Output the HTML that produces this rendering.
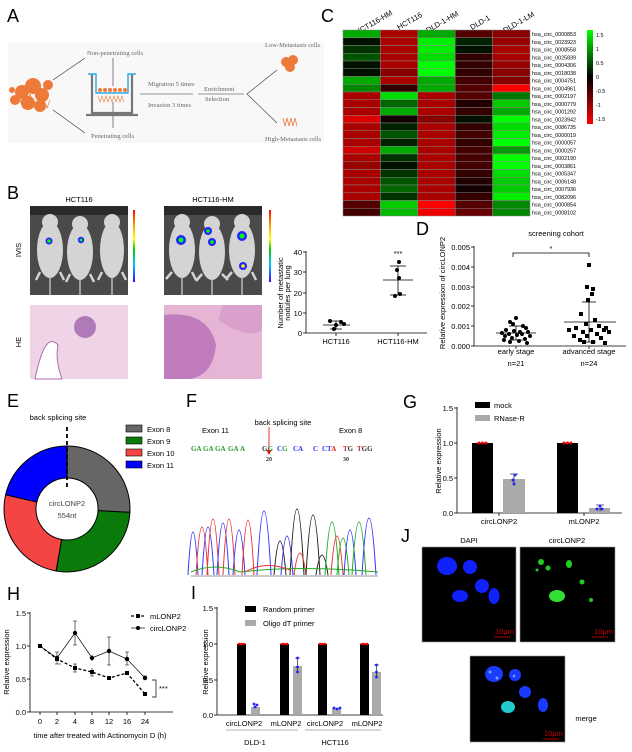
<!DOCTYPE html>
<html><head><meta charset="utf-8"><style>
html,body{margin:0;padding:0;background:#fff;}
svg{display:block;font-family:"Liberation Sans",sans-serif;}
.L{font-size:18px;}
.t{font-size:7.5px;}
.s{font-size:5.4px;}
.sr{font-family:"Liberation Serif",serif;font-size:6.5px;fill:#666;}
</style></head><body>
<svg width="632" height="752" viewBox="0 0 632 752" xmlns="http://www.w3.org/2000/svg">
<!-- A -->
<text x="7" y="22" class="L">A</text>
<rect x="8" y="42" width="316" height="101" fill="#f8f8f8"/>
<g fill="#ee7a3a">
<circle cx="22" cy="92" r="7"/><circle cx="33" cy="86" r="8"/><circle cx="42" cy="95" r="7"/><circle cx="28" cy="103" r="7"/><circle cx="40" cy="106" r="6"/><circle cx="15" cy="100" r="5"/><circle cx="48" cy="85" r="5"/><circle cx="12" cy="90" r="3"/>
</g>
<g stroke="#ee7a3a" stroke-width="0.7" fill="none"><path d="M20 100 l3 8 l3 -8 l3 8 l3 -8 l3 8 l3 -8 l3 8 l3 -8 l3 8 l3 -8"/><path d="M18 94 l3 8 l3 -8 l3 8 l3 -8 l3 8"/></g>
<g stroke="#333" stroke-width="0.6" fill="#333">
<line x1="53" y1="80" x2="85" y2="58"/><line x1="53" y1="110" x2="85" y2="133"/>
<line x1="140" y1="94" x2="193" y2="94"/><line x1="198" y1="94" x2="244" y2="94"/>
<line x1="247" y1="94" x2="277" y2="70"/><line x1="247" y1="94" x2="277" y2="123"/>
<line x1="113" y1="58" x2="113" y2="86"/><line x1="113" y1="128" x2="113" y2="102"/>
</g>
<g fill="none" stroke="#777" stroke-width="2.2"><path d="M92 74 V113 H132 V74"/><line x1="86" y1="115" x2="138" y2="115"/></g>
<g stroke="#2aa8e0" stroke-width="1.4" fill="none"><path d="M88 74 H96 V93 H128 V74 H136"/></g>
<g fill="#ee7a3a"><circle cx="100" cy="90" r="2"/><circle cx="105" cy="90" r="2"/><circle cx="110" cy="90" r="2"/><circle cx="115" cy="90" r="2"/><circle cx="120" cy="90" r="2"/><circle cx="125" cy="90" r="2"/></g>
<path d="M98 96 l2 6 l2 -6 l2 6 l2 -6 l2 6 l2 -6 l2 6 l2 -6 l2 6 l2 -6 l2 6 l2 -6 l2 6" stroke="#ee7a3a" stroke-width="0.6" fill="none"/>
<g class="sr"><text x="87" y="55">Non-penetrating cells</text><text x="91" y="138">Penetrating cells</text>
<text x="148" y="86">Migration 5 times</text><text x="148" y="107">Invasion 3 times</text>
<text x="204" y="91">Enrichment</text><text x="205" y="101">Selection</text>
<text x="265" y="47">Low-Metastasis cells</text><text x="265" y="141">High-Metastasis cells</text></g>
<g fill="#ee7a3a"><circle cx="286" cy="62" r="5"/><circle cx="293" cy="60" r="5"/><circle cx="290" cy="67" r="5"/></g>
<path d="M283 118 l2 8 l2 -8 l2 8 l2 -8 l2 8 l2 -8 l2 8" stroke="#ee7a3a" stroke-width="0.8" fill="none"/>

<!-- C -->
<text x="321" y="22" class="L">C</text>
<g class="t" font-size="6.5">
<text transform="translate(357,35) rotate(-30)">HCT116-HM</text>
<text transform="translate(399,30) rotate(-30)">HCT116</text>
<text transform="translate(428,33) rotate(-30)">DLD-1-HM</text>
<text transform="translate(472,30) rotate(-30)">DLD-1</text>
<text transform="translate(505,33) rotate(-30)">DLD-1-LM</text>
</g>
<g stroke="#888" stroke-width="0.5">
<g transform="translate(0,30)"><rect x="343" width="37.4" height="7.75" fill="#00aa00"/><rect x="380.4" width="37.4" height="7.75" fill="#aa0000"/><rect x="417.8" width="37.4" height="7.75" fill="#00aa00"/><rect x="455.2" width="37.4" height="7.75" fill="#550000"/><rect x="492.6" width="37.4" height="7.75" fill="#880000"/></g>
<g transform="translate(0,37.75)"><rect x="343" width="37.4" height="7.75" fill="#001100"/><rect x="380.4" width="37.4" height="7.75" fill="#aa0000"/><rect x="417.8" width="37.4" height="7.75" fill="#00ee00"/><rect x="455.2" width="37.4" height="7.75" fill="#002200"/><rect x="492.6" width="37.4" height="7.75" fill="#990000"/></g>
<g transform="translate(0,45.5)"><rect x="343" width="37.4" height="7.75" fill="#003300"/><rect x="380.4" width="37.4" height="7.75" fill="#aa0000"/><rect x="417.8" width="37.4" height="7.75" fill="#00ee00"/><rect x="455.2" width="37.4" height="7.75" fill="#001100"/><rect x="492.6" width="37.4" height="7.75" fill="#aa0000"/></g>
<g transform="translate(0,53.25)"><rect x="343" width="37.4" height="7.75" fill="#005500"/><rect x="380.4" width="37.4" height="7.75" fill="#aa0000"/><rect x="417.8" width="37.4" height="7.75" fill="#00dd00"/><rect x="455.2" width="37.4" height="7.75" fill="#330000"/><rect x="492.6" width="37.4" height="7.75" fill="#aa0000"/></g>
<g transform="translate(0,61)"><rect x="343" width="37.4" height="7.75" fill="#001100"/><rect x="380.4" width="37.4" height="7.75" fill="#aa0000"/><rect x="417.8" width="37.4" height="7.75" fill="#00ff00"/><rect x="455.2" width="37.4" height="7.75" fill="#330000"/><rect x="492.6" width="37.4" height="7.75" fill="#990000"/></g>
<g transform="translate(0,68.75)"><rect x="343" width="37.4" height="7.75" fill="#001100"/><rect x="380.4" width="37.4" height="7.75" fill="#880000"/><rect x="417.8" width="37.4" height="7.75" fill="#00ff00"/><rect x="455.2" width="37.4" height="7.75" fill="#330000"/><rect x="492.6" width="37.4" height="7.75" fill="#880000"/></g>
<g transform="translate(0,76.5)"><rect x="343" width="37.4" height="7.75" fill="#00aa00"/><rect x="380.4" width="37.4" height="7.75" fill="#aa0000"/><rect x="417.8" width="37.4" height="7.75" fill="#00aa00"/><rect x="455.2" width="37.4" height="7.75" fill="#440000"/><rect x="492.6" width="37.4" height="7.75" fill="#880000"/></g>
<g transform="translate(0,84.25)"><rect x="343" width="37.4" height="7.75" fill="#008800"/><rect x="380.4" width="37.4" height="7.75" fill="#330000"/><rect x="417.8" width="37.4" height="7.75" fill="#00aa00"/><rect x="455.2" width="37.4" height="7.75" fill="#550000"/><rect x="492.6" width="37.4" height="7.75" fill="#ff0000"/></g>
<g transform="translate(0,92)"><rect x="343" width="37.4" height="7.75" fill="#aa0000"/><rect x="380.4" width="37.4" height="7.75" fill="#00dd00"/><rect x="417.8" width="37.4" height="7.75" fill="#aa0000"/><rect x="455.2" width="37.4" height="7.75" fill="#550000"/><rect x="492.6" width="37.4" height="7.75" fill="#007700"/></g>
<g transform="translate(0,99.75)"><rect x="343" width="37.4" height="7.75" fill="#aa0000"/><rect x="380.4" width="37.4" height="7.75" fill="#006600"/><rect x="417.8" width="37.4" height="7.75" fill="#aa0000"/><rect x="455.2" width="37.4" height="7.75" fill="#220000"/><rect x="492.6" width="37.4" height="7.75" fill="#00cc00"/></g>
<g transform="translate(0,107.5)"><rect x="343" width="37.4" height="7.75" fill="#aa0000"/><rect x="380.4" width="37.4" height="7.75" fill="#00aa00"/><rect x="417.8" width="37.4" height="7.75" fill="#aa0000"/><rect x="455.2" width="37.4" height="7.75" fill="#330000"/><rect x="492.6" width="37.4" height="7.75" fill="#00aa00"/></g>
<g transform="translate(0,115.25)"><rect x="343" width="37.4" height="7.75" fill="#dd0000"/><rect x="380.4" width="37.4" height="7.75" fill="#110000"/><rect x="417.8" width="37.4" height="7.75" fill="#880000"/><rect x="455.2" width="37.4" height="7.75" fill="#001100"/><rect x="492.6" width="37.4" height="7.75" fill="#00ff00"/></g>
<g transform="translate(0,123)"><rect x="343" width="37.4" height="7.75" fill="#aa0000"/><rect x="380.4" width="37.4" height="7.75" fill="#002200"/><rect x="417.8" width="37.4" height="7.75" fill="#aa0000"/><rect x="455.2" width="37.4" height="7.75" fill="#330000"/><rect x="492.6" width="37.4" height="7.75" fill="#00dd00"/></g>
<g transform="translate(0,130.75)"><rect x="343" width="37.4" height="7.75" fill="#aa0000"/><rect x="380.4" width="37.4" height="7.75" fill="#005500"/><rect x="417.8" width="37.4" height="7.75" fill="#aa0000"/><rect x="455.2" width="37.4" height="7.75" fill="#440000"/><rect x="492.6" width="37.4" height="7.75" fill="#00ee00"/></g>
<g transform="translate(0,138.5)"><rect x="343" width="37.4" height="7.75" fill="#aa0000"/><rect x="380.4" width="37.4" height="7.75" fill="#002200"/><rect x="417.8" width="37.4" height="7.75" fill="#aa0000"/><rect x="455.2" width="37.4" height="7.75" fill="#330000"/><rect x="492.6" width="37.4" height="7.75" fill="#00ff00"/></g>
<g transform="translate(0,146.25)"><rect x="343" width="37.4" height="7.75" fill="#cc0000"/><rect x="380.4" width="37.4" height="7.75" fill="#00aa00"/><rect x="417.8" width="37.4" height="7.75" fill="#aa0000"/><rect x="455.2" width="37.4" height="7.75" fill="#440000"/><rect x="492.6" width="37.4" height="7.75" fill="#009900"/></g>
<g transform="translate(0,154)"><rect x="343" width="37.4" height="7.75" fill="#aa0000"/><rect x="380.4" width="37.4" height="7.75" fill="#003300"/><rect x="417.8" width="37.4" height="7.75" fill="#aa0000"/><rect x="455.2" width="37.4" height="7.75" fill="#440000"/><rect x="492.6" width="37.4" height="7.75" fill="#00ff00"/></g>
<g transform="translate(0,161.75)"><rect x="343" width="37.4" height="7.75" fill="#990000"/><rect x="380.4" width="37.4" height="7.75" fill="#001100"/><rect x="417.8" width="37.4" height="7.75" fill="#aa0000"/><rect x="455.2" width="37.4" height="7.75" fill="#440000"/><rect x="492.6" width="37.4" height="7.75" fill="#00ff00"/></g>
<g transform="translate(0,169.5)"><rect x="343" width="37.4" height="7.75" fill="#aa0000"/><rect x="380.4" width="37.4" height="7.75" fill="#003300"/><rect x="417.8" width="37.4" height="7.75" fill="#aa0000"/><rect x="455.2" width="37.4" height="7.75" fill="#330000"/><rect x="492.6" width="37.4" height="7.75" fill="#00dd00"/></g>
<g transform="translate(0,177.25)"><rect x="343" width="37.4" height="7.75" fill="#aa0000"/><rect x="380.4" width="37.4" height="7.75" fill="#005500"/><rect x="417.8" width="37.4" height="7.75" fill="#aa0000"/><rect x="455.2" width="37.4" height="7.75" fill="#220000"/><rect x="492.6" width="37.4" height="7.75" fill="#00cc00"/></g>
<g transform="translate(0,185)"><rect x="343" width="37.4" height="7.75" fill="#aa0000"/><rect x="380.4" width="37.4" height="7.75" fill="#006600"/><rect x="417.8" width="37.4" height="7.75" fill="#aa0000"/><rect x="455.2" width="37.4" height="7.75" fill="#110000"/><rect x="492.6" width="37.4" height="7.75" fill="#00cc00"/></g>
<g transform="translate(0,192.75)"><rect x="343" width="37.4" height="7.75" fill="#aa0000"/><rect x="380.4" width="37.4" height="7.75" fill="#003300"/><rect x="417.8" width="37.4" height="7.75" fill="#aa0000"/><rect x="455.2" width="37.4" height="7.75" fill="#330000"/><rect x="492.6" width="37.4" height="7.75" fill="#00ee00"/></g>
<g transform="translate(0,200.5)"><rect x="343" width="37.4" height="7.75" fill="#550000"/><rect x="380.4" width="37.4" height="7.75" fill="#00cc00"/><rect x="417.8" width="37.4" height="7.75" fill="#ff0000"/><rect x="455.2" width="37.4" height="7.75" fill="#550000"/><rect x="492.6" width="37.4" height="7.75" fill="#008800"/></g>
<g transform="translate(0,208.25)"><rect x="343" width="37.4" height="7.75" fill="#440000"/><rect x="380.4" width="37.4" height="7.75" fill="#00bb00"/><rect x="417.8" width="37.4" height="7.75" fill="#ee0000"/><rect x="455.2" width="37.4" height="7.75" fill="#660000"/><rect x="492.6" width="37.4" height="7.75" fill="#008800"/></g>
</g>
<g class="s">
<text x="532" y="36">hsa_circ_0000853</text><text x="532" y="43.8">hsa_circ_0023923</text><text x="532" y="51.5">hsa_circ_0008558</text><text x="532" y="59.3">hsa_circ_0025839</text><text x="532" y="67">hsa_circ_0004306</text><text x="532" y="74.8">hsa_circ_0018038</text><text x="532" y="82.5">hsa_circ_0004751</text><text x="532" y="90.3">hsa_circ_0004961</text><text x="532" y="98">hsa_circ_0002197</text><text x="532" y="105.8">hsa_circ_0000779</text><text x="532" y="113.5">hsa_circ_0001292</text><text x="532" y="121.3">hsa_circ_0023942</text><text x="532" y="129">hsa_circ_0086735</text><text x="532" y="136.8">hsa_circ_0000019</text><text x="532" y="144.5">hsa_circ_0000057</text><text x="532" y="152.3">hsa_circ_0000257</text><text x="532" y="160">hsa_circ_0002190</text><text x="532" y="167.8">hsa_circ_0003861</text><text x="532" y="175.5">hsa_circ_0005347</text><text x="532" y="183.3">hsa_circ_0006148</text><text x="532" y="191">hsa_circ_0007936</text><text x="532" y="198.8">hsa_circ_0082096</text><text x="532" y="206.5">hsa_circ_0000854</text><text x="532" y="214.3">hsa_circ_0008102</text>
</g>
<defs><linearGradient id="cb" x1="0" y1="0" x2="0" y2="1"><stop offset="0" stop-color="#00ff00"/><stop offset="0.5" stop-color="#000"/><stop offset="1" stop-color="#ff0000"/></linearGradient>
<linearGradient id="rb" x1="0" y1="0" x2="0" y2="1"><stop offset="0" stop-color="#f00"/><stop offset="0.2" stop-color="#f90"/><stop offset="0.4" stop-color="#ff0"/><stop offset="0.55" stop-color="#0c0"/><stop offset="0.75" stop-color="#0cf"/><stop offset="1" stop-color="#40f"/></linearGradient></defs>
<rect x="587" y="30" width="6" height="94" fill="url(#cb)"/>
<g class="s"><text x="596" y="37">1.5</text><text x="596" y="51">1</text><text x="596" y="65">0.5</text><text x="596" y="79">0</text><text x="596" y="93">-0.5</text><text x="596" y="107">-1</text><text x="596" y="121">-1.5</text></g>

<!-- B -->
<text x="7" y="199" class="L">B</text>
<text x="79" y="202" class="t" font-size="8.5" text-anchor="middle">HCT116</text>
<text x="213" y="202" class="t" font-size="8.5" text-anchor="middle">HCT116-HM</text>
<text transform="translate(21,250) rotate(-90)" class="t" font-size="8.5" text-anchor="middle">IVIS</text>
<text transform="translate(21,342) rotate(-90)" class="t" font-size="8.5" text-anchor="middle">HE</text>
<g>
<rect x="30" y="206" width="98" height="89" fill="#4a4a4a"/>
<rect x="164" y="206" width="98" height="89" fill="#4a4a4a"/>
<rect x="30" y="206" width="98" height="9" fill="#2a2a2a"/><rect x="164" y="206" width="98" height="9" fill="#2a2a2a"/>
<g fill="#d4d4d4">
<ellipse cx="50" cy="250" rx="13" ry="28"/><ellipse cx="80" cy="252" rx="13" ry="28"/><ellipse cx="112" cy="250" rx="12" ry="28"/>
<ellipse cx="182" cy="250" rx="13" ry="28"/><ellipse cx="212" cy="252" rx="13" ry="28"/><ellipse cx="242" cy="250" rx="13" ry="28"/>
<ellipse cx="50" cy="222" rx="8" ry="8"/><ellipse cx="80" cy="224" rx="8" ry="8"/><ellipse cx="112" cy="222" rx="8" ry="8"/>
<ellipse cx="182" cy="222" rx="8" ry="8"/><ellipse cx="212" cy="224" rx="8" ry="8"/><ellipse cx="242" cy="222" rx="8" ry="8"/>
</g>
<g stroke="#d4d4d4" stroke-width="2.5"><path d="M40 272 l-4 8 M60 272 l4 8 M70 274 l-4 8 M90 274 l4 8 M102 272 l-4 8 M122 272 l4 8 M172 272 l-6 7 M192 272 l4 8 M202 274 l-6 7 M222 274 l6 6 M232 272 l-6 7 M252 272 l4 8"/></g>
<g stroke="#ccc" stroke-width="1.3"><line x1="50" y1="278" x2="50" y2="295"/><line x1="80" y1="280" x2="80" y2="295"/><line x1="112" y1="278" x2="112" y2="295"/><line x1="182" y1="278" x2="182" y2="295"/><line x1="212" y1="280" x2="212" y2="295"/><line x1="242" y1="278" x2="242" y2="295"/></g>
<g><circle cx="49" cy="241" r="3.5" fill="#22f"/><circle cx="49" cy="241" r="1.8" fill="#0f0"/>
<circle cx="81" cy="240" r="3.2" fill="#22f"/><circle cx="81" cy="240" r="1.5" fill="#0f0"/>
<circle cx="181" cy="240" r="5" fill="#22f"/><circle cx="181" cy="240" r="2.5" fill="#0f0"/>
<circle cx="208" cy="231" r="4" fill="#22f"/><circle cx="208" cy="231" r="1.8" fill="#0f0"/>
<circle cx="212" cy="242" r="4" fill="#22f"/><circle cx="212" cy="242" r="1.8" fill="#0f0"/>
<circle cx="242" cy="236" r="5" fill="#22f"/><circle cx="242" cy="236" r="2.5" fill="#0f0"/>
<circle cx="243" cy="266" r="4" fill="#22f"/><circle cx="243" cy="266" r="1.8" fill="#ff0"/></g>
<rect x="133" y="210" width="2" height="72" fill="url(#rb)"/><rect x="269" y="210" width="2" height="72" fill="url(#rb)"/>
<rect x="30" y="305" width="98" height="74" fill="#efd3e6"/>
<rect x="164" y="305" width="98" height="74" fill="#e6b5d6"/>
<circle cx="85" cy="327" r="11" fill="#b07ab8"/>
<path d="M35 379 Q45 330 58 345 Q55 360 62 379Z" fill="#fff" stroke="#b26ab0"/>
<path d="M164 315 Q208 310 216 345 Q213 375 190 379 H164Z" fill="#c07cbd"/>
<path d="M218 320 Q248 340 262 330 V305 H223Z" fill="#d9a0cc"/>
</g>
<!-- B scatter -->
<g stroke="#000" stroke-width="0.8" fill="none">
<line x1="306" y1="251" x2="306" y2="333"/><line x1="306" y1="333" x2="427" y2="333"/>
<line x1="303" y1="252" x2="306" y2="252"/><line x1="303" y1="272" x2="306" y2="272"/><line x1="303" y1="293" x2="306" y2="293"/><line x1="303" y1="313" x2="306" y2="313"/><line x1="303" y1="333" x2="306" y2="333"/>
<line x1="336" y1="333" x2="336" y2="336"/><line x1="398" y1="333" x2="398" y2="336"/>
<line x1="323" y1="325" x2="350" y2="325"/><line x1="336" y1="321" x2="336" y2="329"/><line x1="330" y1="321" x2="342" y2="321"/><line x1="330" y1="329" x2="342" y2="329"/>
<line x1="383" y1="280" x2="413" y2="280"/><line x1="398" y1="266" x2="398" y2="295"/><line x1="390" y1="266" x2="406" y2="266"/><line x1="390" y1="295" x2="406" y2="295"/>
</g>
<g fill="#000"><circle cx="330" cy="321" r="2"/><circle cx="341" cy="322" r="2"/><circle cx="336" cy="325" r="2"/><circle cx="334" cy="329" r="2"/><circle cx="344" cy="324" r="2"/>
<circle cx="399" cy="262" r="2"/><circle cx="397" cy="270" r="2"/><circle cx="399" cy="278" r="2"/><circle cx="400" cy="294" r="2"/><circle cx="395" cy="296" r="2"/></g>
<g class="t" text-anchor="end"><text x="302" y="255">40</text><text x="302" y="275">30</text><text x="302" y="296">20</text><text x="302" y="316">10</text><text x="302" y="336">0</text></g>
<g class="t" text-anchor="middle"><text x="336" y="344">HCT116</text><text x="398" y="344">HCT116-HM</text><text x="398" y="256">***</text></g>
<text transform="translate(283,293) rotate(-90)" class="t" text-anchor="middle">Number of metastatic</text>
<text transform="translate(290,293) rotate(-90)" class="t" text-anchor="middle">nodules per lung</text>

<!-- D -->
<text x="416" y="235" class="L">D</text>
<text x="556" y="236" class="t" font-size="8" text-anchor="middle">screening cohort</text>
<g stroke="#000" stroke-width="0.8" fill="none">
<line x1="474" y1="246" x2="474" y2="346"/><line x1="474" y1="346" x2="626" y2="346"/>
<line x1="471" y1="247" x2="474" y2="247"/><line x1="471" y1="267" x2="474" y2="267"/><line x1="471" y1="287" x2="474" y2="287"/><line x1="471" y1="306" x2="474" y2="306"/><line x1="471" y1="326" x2="474" y2="326"/><line x1="471" y1="346" x2="474" y2="346"/>
<line x1="516" y1="346" x2="516" y2="349"/><line x1="589" y1="346" x2="589" y2="349"/>
<path d="M513 257 V253 H589 V257"/>
<line x1="496" y1="333" x2="536" y2="333"/><line x1="516" y1="326" x2="516" y2="340"/><line x1="509" y1="326" x2="523" y2="326"/><line x1="509" y1="340" x2="523" y2="340"/>
<line x1="564" y1="322" x2="616" y2="322"/><line x1="589" y1="302" x2="589" y2="342"/><line x1="582" y1="302" x2="596" y2="302"/><line x1="582" y1="342" x2="596" y2="342"/>
</g>
<text x="551" y="251" class="t" text-anchor="middle">*</text>
<g fill="#000" transform="translate(-4,0)">
<circle cx="520" cy="318" r="2"/><circle cx="514" cy="322" r="2"/><circle cx="527" cy="326" r="2"/><circle cx="517" cy="324" r="2"/><circle cx="530" cy="328" r="2"/><circle cx="510" cy="330" r="2"/><circle cx="518" cy="331" r="2"/><circle cx="524" cy="332" r="2"/><circle cx="532" cy="332" r="2"/><circle cx="506" cy="333" r="2"/><circle cx="513" cy="334" r="2"/><circle cx="526" cy="334" r="2"/><circle cx="521" cy="335" r="2"/><circle cx="509" cy="336" r="2"/><circle cx="534" cy="336" r="2"/><circle cx="516" cy="338" r="2"/><circle cx="529" cy="339" r="2"/><circle cx="508" cy="340" r="2"/><circle cx="523" cy="341" r="2"/><circle cx="514" cy="342" r="2"/><circle cx="531" cy="343" r="2"/>
<rect x="591" y="263" width="4" height="4"/><rect x="589" y="285" width="4" height="4"/><rect x="595" y="287" width="4" height="4"/><rect x="594" y="292" width="4" height="4"/><rect x="590" y="298" width="4" height="4"/><rect x="583" y="312" width="4" height="4"/><rect x="597" y="318" width="4" height="4"/><rect x="588" y="322" width="4" height="4"/><rect x="601" y="324" width="4" height="4"/><rect x="578" y="326" width="4" height="4"/><rect x="593" y="328" width="4" height="4"/><rect x="571" y="328" width="4" height="4"/><rect x="606" y="328" width="4" height="4"/><rect x="585" y="330" width="4" height="4"/><rect x="611" y="330" width="4" height="4"/><rect x="599" y="332" width="4" height="4"/><rect x="576" y="334" width="4" height="4"/><rect x="589" y="334" width="4" height="4"/><rect x="603" y="336" width="4" height="4"/><rect x="582" y="338" width="4" height="4"/><rect x="595" y="340" width="4" height="4"/><rect x="586" y="340" width="4" height="4"/><rect x="607" y="341" width="4" height="4"/><rect x="608" y="326" width="4" height="4"/>
</g>
<g class="t" text-anchor="end"><text x="470" y="250">0.005</text><text x="470" y="270">0.004</text><text x="470" y="290">0.003</text><text x="470" y="309">0.002</text><text x="470" y="329">0.001</text><text x="470" y="349">0.000</text></g>
<g class="t" font-size="8" text-anchor="middle"><text x="516" y="354">early stage</text><text x="516" y="366">n=21</text><text x="589" y="354">advanced stage</text><text x="589" y="366">n=24</text></g>
<text transform="translate(445,293) rotate(-90)" class="t" text-anchor="middle">Relative expression of circLONP2</text>

<!-- E -->
<text x="7" y="407" class="L">E</text>
<text x="58" y="420" class="t" text-anchor="middle">back splicing site</text>
<g stroke="#000" stroke-width="1">
<path d="M67 446 A63 63 0 0 1 129.9 512.3 L98 510.6 A31 31 0 0 0 67 478 Z" fill="#666"/>
<path d="M129.9 512.3 A63 63 0 0 1 56.1 571 L61.6 539.5 A31 31 0 0 0 98 510.6 Z" fill="#0a7a0a"/>
<path d="M56.1 571 A63 63 0 0 1 5.6 494.8 L36.8 502 A31 31 0 0 0 61.6 539.5 Z" fill="#f44444"/>
<path d="M5.6 494.8 A63 63 0 0 1 67 446 L67 478 A31 31 0 0 0 36.8 502 Z" fill="#0000ff"/>
</g>
<line x1="67" y1="427" x2="67" y2="488" stroke="#000" stroke-width="1.8" stroke-dasharray="4,3"/>
<g class="t" text-anchor="middle" fill="#444"><text x="67" y="506">circLONP2</text><text x="67" y="518">554nt</text></g>
<g stroke="#000" stroke-width="0.6"><rect x="126" y="425" width="16" height="7" fill="#666"/><rect x="126" y="437" width="16" height="7" fill="#0a7a0a"/><rect x="126" y="449" width="16" height="7" fill="#f44444"/><rect x="126" y="461" width="16" height="7" fill="#0000ff"/></g>
<g class="t"><text x="147" y="432">Exon 8</text><text x="147" y="444">Exon 9</text><text x="147" y="456">Exon 10</text><text x="147" y="468">Exon 11</text></g>

<!-- F -->
<text x="186" y="407" class="L">F</text>
<g class="t"><text x="202" y="433">Exon 11</text><text x="283" y="425" text-anchor="middle">back splicing site</text><text x="339" y="433">Exon 8</text></g>
<line x1="269" y1="427" x2="269" y2="451" stroke="#e00" stroke-width="0.8"/><path d="M266.5 450 L269 455 L271.5 450Z" fill="#e00"/>
<g font-family="Liberation Serif,serif" font-size="7" font-weight="bold">
<text x="191" y="451" fill="#2a9a2a">GA</text><text x="203" y="451" fill="#2a9a2a">GA</text><text x="215" y="451" fill="#2a9a2a">GA</text><text x="228" y="451" fill="#2a9a2a">GA</text><text x="240" y="451" fill="#2a9a2a">A</text>
<text x="262" y="451"><tspan fill="#333">G</tspan><tspan fill="#2a9a2a">G</tspan></text>
<text x="277" y="451" fill="#3030ff">C<tspan fill="#2a9a2a">G</tspan></text><text x="293" y="451" fill="#3030ff">CA</text><text x="313" y="451" fill="#3030ff">C</text>
<text x="322" y="451" fill="#3030ff">CT<tspan fill="#e02020">A</tspan></text><text x="343" y="451" fill="#e02020">T<tspan fill="#333">G</tspan></text><text x="357" y="451" fill="#e02020">T<tspan fill="#333">GG</tspan></text>
<text x="266" y="461" fill="#333" font-size="6">20</text><text x="343" y="461" fill="#333" font-size="6">30</text>
</g>
<line x1="191" y1="576" x2="378" y2="576" stroke="#777" stroke-width="0.8"/>
<g fill="none" stroke-width="1">
<path stroke="#33f" d="M188 575 Q193 489 198 575"/><path stroke="#e33" d="M196 575 Q202 479 208 575"/><path stroke="#33f" d="M202 575 Q208 479 214 575"/><path stroke="#e33" d="M207 575 Q213 463 219 575"/><path stroke="#33f" d="M217 575 Q223 471 229 575"/><path stroke="#e33" d="M223 575 Q229 463 235 575"/><path stroke="#33f" d="M233 575 Q239 485 245 575"/><path stroke="#e33" d="M242 575 Q248 465 254 575"/><path stroke="#33f" d="M257 575 Q264 447 271 575"/><path stroke="#222" d="M274 575 Q280 507 286 575"/><path stroke="#33f" d="M281 575 Q287 497 293 575"/><path stroke="#222" d="M290 575 Q297 443 304 575"/><path stroke="#e33" d="M294 575 Q300 531 306 575"/><path stroke="#222" d="M306 575 Q313 455 320 575"/><path stroke="#222" d="M316 575 Q322 535 328 575"/><path stroke="#2a2" d="M325 575 Q332 469 339 575"/><path stroke="#e33" d="M331 575 Q337 497 343 575"/><path stroke="#2a2" d="M337 575 Q343 501 349 575"/><path stroke="#33f" d="M344 575 Q350 485 356 575"/><path stroke="#2a2" d="M352 575 Q359 469 366 575"/><path stroke="#33f" d="M362 575 Q369 461 376 575"/>
<path stroke="#2a2" d="M191 572 Q215 562 240 572 Q300 565 378 572"/><path stroke="#e33" d="M245 572 Q265 560 290 570"/>
</g>

<!-- G -->
<text x="403" y="408" class="L">G</text>
<g stroke="#000" stroke-width="0.8" fill="none"><line x1="457" y1="407" x2="457" y2="513"/><line x1="457" y1="513" x2="622" y2="513"/>
<line x1="454" y1="408" x2="457" y2="408"/><line x1="454" y1="443" x2="457" y2="443"/><line x1="454" y1="478" x2="457" y2="478"/><line x1="454" y1="513" x2="457" y2="513"/><line x1="499" y1="513" x2="499" y2="516"/><line x1="584" y1="513" x2="584" y2="516"/></g>
<rect x="472" y="443" width="21" height="70" fill="#000"/><rect x="503" y="479" width="22" height="34" fill="#aaa"/>
<rect x="557" y="443" width="21" height="70" fill="#000"/><rect x="589" y="508" width="21" height="5" fill="#aaa"/>
<g fill="#e00"><circle cx="479" cy="443" r="1.5"/><circle cx="482.5" cy="443" r="1.5"/><circle cx="486" cy="443" r="1.5"/><circle cx="564" cy="443" r="1.5"/><circle cx="567.5" cy="443" r="1.5"/><circle cx="571" cy="443" r="1.5"/></g>
<g stroke="#000" stroke-width="0.6"><line x1="514" y1="474" x2="514" y2="484"/><line x1="510" y1="474" x2="518" y2="474"/><line x1="600" y1="505" x2="600" y2="511"/><line x1="596" y1="505" x2="604" y2="505"/></g>
<g fill="#22f"><circle cx="515" cy="475" r="1.5"/><circle cx="513" cy="480" r="1.5"/><circle cx="514" cy="484" r="1.5"/><circle cx="600" cy="506" r="1.5"/><circle cx="597" cy="509" r="1.5"/><circle cx="602" cy="509" r="1.5"/></g>
<rect x="475" y="402" width="15" height="6" fill="#000"/><rect x="475" y="415" width="15" height="6" fill="#aaa"/>
<g class="t"><text x="494" y="408">mock</text><text x="494" y="421">RNase-R</text></g>
<g class="t" text-anchor="end"><text x="453" y="411">1.5</text><text x="453" y="446">1.0</text><text x="453" y="481">0.5</text><text x="453" y="516">0.0</text></g>
<g class="t" text-anchor="middle"><text x="499" y="524">circLONP2</text><text x="584" y="524">mLONP2</text></g>
<text transform="translate(441,461) rotate(-90)" class="t" text-anchor="middle">Relative expression</text>

<!-- H -->
<text x="7" y="600" class="L">H</text>
<g stroke="#000" stroke-width="0.8" fill="none"><line x1="30" y1="612" x2="30" y2="712"/><line x1="30" y1="712" x2="173" y2="712"/>
<line x1="27" y1="613" x2="30" y2="613"/><line x1="27" y1="646" x2="30" y2="646"/><line x1="27" y1="679" x2="30" y2="679"/><line x1="27" y1="712" x2="30" y2="712"/>
<line x1="40" y1="712" x2="40" y2="715"/><line x1="57" y1="712" x2="57" y2="715"/><line x1="75" y1="712" x2="75" y2="715"/><line x1="92" y1="712" x2="92" y2="715"/><line x1="109" y1="712" x2="109" y2="715"/><line x1="127" y1="712" x2="127" y2="715"/><line x1="145" y1="712" x2="145" y2="715"/>
<polyline points="40,646 57,658 75,633 92,658 109,651 127,659 145,678" stroke-width="0.7"/>
<polyline points="40,646 57,659 75,668 92,672 109,678 127,673 145,694" stroke-dasharray="3,2" stroke-width="1.3"/>
<g stroke-width="0.6"><path d="M57 652V664 M75 621V645 M92 655V661 M109 637V665 M127 652V665 M145 676V680 M73 621H77 M73 645H77 M107 637H111 M107 665H111 M125 652H129 M125 665H129 M55 652H59 M55 664H61 M143 676H147 M75 664V672 M73 664H77 M73 672H77 M92 668V676 M90 676H94"/></g>
<path d="M152 680 H156 V697 H152" stroke-width="0.7"/>
</g>
<g fill="#000"><rect x="38" y="644" width="4" height="4"/><rect x="55" y="657" width="4" height="4"/><rect x="73" y="666" width="4" height="4"/><rect x="90" y="670" width="4" height="4"/><rect x="107" y="676" width="4" height="4"/><rect x="125" y="671" width="4" height="4"/><rect x="143" y="692" width="4" height="4"/>
<circle cx="57" cy="658" r="2.2"/><circle cx="75" cy="633" r="2.2"/><circle cx="92" cy="658" r="2.2"/><circle cx="109" cy="651" r="2.2"/><circle cx="127" cy="659" r="2.2"/><circle cx="145" cy="678" r="2.2"/></g>
<text x="159" y="691" class="t" font-size="6">***</text>
<g stroke="#000"><line x1="131" y1="616" x2="145" y2="616" stroke-dasharray="3,2" stroke-width="1.2"/><line x1="131" y1="628" x2="145" y2="628" stroke-width="0.7"/></g>
<rect x="136" y="614" width="4" height="4"/><circle cx="138" cy="628" r="2"/>
<g class="t"><text x="150" y="619">mLONP2</text><text x="150" y="631">circLONP2</text></g>
<g class="t" text-anchor="end"><text x="26" y="616">1.5</text><text x="26" y="649">1.0</text><text x="26" y="682">0.5</text><text x="26" y="715">0.0</text></g>
<g class="t" text-anchor="middle"><text x="40" y="724">0</text><text x="57" y="724">2</text><text x="75" y="724">4</text><text x="92" y="724">8</text><text x="109" y="724">12</text><text x="127" y="724">16</text><text x="145" y="724">24</text>
<text x="100" y="738">time after treated with Actinomycin D (h)</text></g>
<text transform="translate(9,662) rotate(-90)" class="t" text-anchor="middle">Relative expression</text>

<!-- I -->
<text x="191" y="599" class="L">I</text>
<g stroke="#000" stroke-width="0.8" fill="none"><line x1="217" y1="607" x2="217" y2="715"/><line x1="217" y1="715" x2="383" y2="715"/>
<line x1="214" y1="608" x2="217" y2="608"/><line x1="214" y1="644" x2="217" y2="644"/><line x1="214" y1="680" x2="217" y2="680"/><line x1="214" y1="715" x2="217" y2="715"/></g>
<g fill="#000"><rect x="237" y="644" width="9" height="71"/><rect x="280" y="644" width="9" height="71"/><rect x="318" y="644" width="9" height="71"/><rect x="360" y="644" width="9" height="71"/></g>
<g fill="#aaa"><rect x="251" y="707" width="9" height="8"/><rect x="293" y="666" width="9" height="49"/><rect x="332" y="708" width="9" height="7"/><rect x="372" y="672" width="9" height="43"/></g>
<g fill="#e00"><circle cx="239" cy="644" r="1.3"/><circle cx="241.5" cy="644" r="1.3"/><circle cx="244" cy="644" r="1.3"/><circle cx="282" cy="644" r="1.3"/><circle cx="284.5" cy="644" r="1.3"/><circle cx="287" cy="644" r="1.3"/><circle cx="320" cy="644" r="1.3"/><circle cx="322.5" cy="644" r="1.3"/><circle cx="325" cy="644" r="1.3"/><circle cx="362" cy="644" r="1.3"/><circle cx="364.5" cy="644" r="1.3"/><circle cx="367" cy="644" r="1.3"/></g>
<g stroke="#000" stroke-width="0.6"><path d="M297.5 658V672 M295 658H300 M376.5 665V678 M374 665H379"/></g>
<g fill="#22f"><circle cx="254" cy="704" r="1.4"/><circle cx="257" cy="705" r="1.4"/><circle cx="255" cy="707" r="1.4"/><circle cx="297.5" cy="658" r="1.4"/><circle cx="297.5" cy="667" r="1.4"/><circle cx="297.5" cy="672" r="1.4"/><circle cx="334" cy="708" r="1.4"/><circle cx="337" cy="709" r="1.4"/><circle cx="340" cy="708" r="1.4"/><circle cx="376.5" cy="665" r="1.4"/><circle cx="376.5" cy="672" r="1.4"/><circle cx="376.5" cy="677" r="1.4"/></g>
<rect x="245" y="606" width="11" height="6" fill="#000"/><rect x="245" y="620" width="11" height="6" fill="#aaa"/>
<g class="t"><text x="263" y="612">Random primer</text><text x="263" y="626">Oligo dT primer</text></g>
<g class="t" text-anchor="end"><text x="213" y="611">1.5</text><text x="213" y="647">1.0</text><text x="213" y="683">0.5</text><text x="213" y="718">0.0</text></g>
<g class="t" text-anchor="middle"><text x="244" y="726">circLONP2</text><text x="286" y="726">mLONP2</text><text x="325" y="726">circLONP2</text><text x="367" y="726">mLONP2</text><text x="255" y="745">DLD-1</text><text x="335" y="745">HCT116</text></g>
<g stroke="#999" stroke-width="0.7"><line x1="226" y1="730" x2="298" y2="730"/><line x1="305" y1="730" x2="381" y2="730"/></g>
<text transform="translate(208,662) rotate(-90)" class="t" text-anchor="middle">Relative expression</text>

<!-- J -->
<text x="401" y="542" class="L">J</text>
<g class="t" font-size="8" text-anchor="middle"><text x="469" y="543">DAPI</text><text x="567" y="543">circLONP2</text><text x="586" y="721">merge</text></g>
<rect x="422" y="547" width="94" height="95" fill="#000" stroke="#999" stroke-width="0.6"/>
<rect x="520" y="547" width="95" height="95" fill="#000" stroke="#999" stroke-width="0.6"/>
<rect x="470" y="656" width="95" height="86" fill="#000" stroke="#999" stroke-width="0.6"/>
<g fill="#1020ff"><ellipse cx="447" cy="566" rx="10" ry="9"/><ellipse cx="470" cy="567" rx="7" ry="7"/><ellipse cx="482" cy="586" rx="7" ry="7"/><ellipse cx="460" cy="596" rx="8" ry="6"/><ellipse cx="494" cy="596" rx="5.5" ry="8"/></g>
<g fill="#22cc22"><circle cx="541" cy="562" r="3"/><circle cx="548" cy="568" r="2.5"/><circle cx="537" cy="570" r="1.5"/><ellipse cx="569" cy="564" rx="3" ry="4"/><circle cx="582" cy="582" r="2.5"/><ellipse cx="557" cy="596" rx="8" ry="6" fill="#33dd33"/><circle cx="591" cy="600" r="2"/></g>
<g fill="#1a3aff"><ellipse cx="494" cy="674" rx="9" ry="8"/><ellipse cx="515" cy="675" rx="6" ry="6"/><ellipse cx="525" cy="692" rx="6" ry="6"/><ellipse cx="508" cy="707" rx="7" ry="6" fill="#22cccc"/><ellipse cx="543" cy="705" rx="5" ry="7"/></g>
<g fill="#6af"><circle cx="490" cy="672" r="1.5"/><circle cx="497" cy="678" r="1.5"/><circle cx="514" cy="676" r="1.3"/></g>
<g font-size="6" class="t"><text x="495" y="634" fill="#c00">10μm</text><text x="594" y="634" fill="#c00">10μm</text><text x="544" y="736" fill="#c00">10μm</text></g>
<g stroke="#c00" stroke-width="0.8"><line x1="494" y1="637" x2="510" y2="637"/><line x1="592" y1="637" x2="608" y2="637"/><line x1="543" y1="739" x2="559" y2="739"/></g>
</svg>
</body></html>
